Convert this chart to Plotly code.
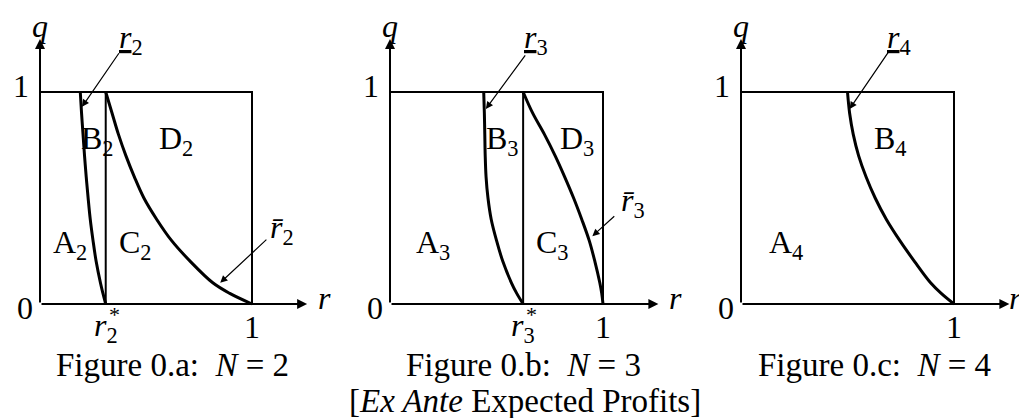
import plotly.graph_objects as go

# sampled boundary curves, q from 1 down to 0
q_grid = [1.0, 0.9, 0.8, 0.7, 0.6, 0.5, 0.4, 0.3, 0.2, 0.1, 0.05, 0.0]

r2_low = [0.19, 0.196, 0.203, 0.21, 0.218, 0.227, 0.237, 0.25, 0.265, 0.285, 0.297, 0.31]
r2_up = [0.31, 0.34, 0.37, 0.405, 0.445, 0.49, 0.55, 0.62, 0.71, 0.815, 0.895, 1.0]
r3_low = [0.44, 0.443, 0.445, 0.447, 0.451, 0.46, 0.475, 0.50, 0.53, 0.57, 0.595, 0.625]
r3_up = [0.625, 0.67, 0.725, 0.775, 0.82, 0.862, 0.90, 0.935, 0.962, 0.985, 0.994, 1.0]
r4_low = [0.50, 0.51, 0.527, 0.552, 0.587, 0.63, 0.682, 0.745, 0.815, 0.89, 0.94, 1.0]

r_star = [0.31, 0.625]
panel_n = [2, 3, 4]
captions = ["Figure 0.a:  <i>N</i> = 2", "Figure 0.b:  <i>N</i> = 3", "Figure 0.c:  <i>N</i> = 4"]
subtitle = "[<i>Ex Ante</i> Expected Profits]"

W, H = 1027, 418
FONT = "Liberation Serif"
FS = 32
CAP_FS = 33

# pixel layout of each panel: (domain left, domain right, px of r=0, px of r=1)
panels = [(0, 340, 32, 244), (340, 680, 382, 595), (680, 1027, 733, 946)]
q0_px, q1_px = 296, 84

fig = go.Figure()
layout = dict(width=W, height=H, margin=dict(l=0, r=0, t=0, b=0),
              paper_bgcolor="white", plot_bgcolor="white", showlegend=False)
ymin = (q0_px - H) / (q0_px - q1_px)
ymax = q0_px / (q0_px - q1_px)
for i, (d0, d1, p0, p1) in enumerate(panels):
    s = "" if i == 0 else str(i + 1)
    u = p1 - p0
    layout["xaxis" + s] = dict(domain=[d0 / W, d1 / W], range=[(d0 - p0) / u, (d1 - p0) / u],
                               visible=False, fixedrange=True, anchor="y" + s)
    layout["yaxis" + s] = dict(domain=[0, 1], range=[ymin, ymax], visible=False,
                               anchor="x" + s, fixedrange=True)
fig.update_layout(**layout)

ann = []


def line(xs, ys, i, w, curved=False):
    s = "" if i == 0 else str(i + 1)
    style = dict(color="black", width=w)
    if curved:
        style.update(shape="spline", smoothing=1.0)
    fig.add_trace(go.Scatter(x=xs, y=ys, mode="lines", xaxis="x" + s, yaxis="y" + s,
                             line=style, hoverinfo="skip"))


def text(t, x, y, i, size=FS, **kw):
    s = "" if i == 0 else str(i + 1)
    ann.append(dict(text=t, x=x, y=y, xref="x" + s, yref="y" + s, showarrow=False,
                    xanchor="center", yanchor="middle",
                    font=dict(family=FONT, size=size, color="black"), **kw))


def arrow(x0, y0, x1, y1, i, w=1.2, size=1.2):
    s = "" if i == 0 else str(i + 1)
    ann.append(dict(text="", x=x1, y=y1, ax=x0, ay=y0, xref="x" + s, yref="y" + s,
                    axref="x" + s, ayref="y" + s, showarrow=True, arrowhead=2,
                    arrowsize=size, arrowwidth=w, arrowcolor="black"))


over = lambda n: "<i>r\u0304</i><sub>%d</sub>" % n
under = lambda n: "<u><i>r</i></u><sub>%d</sub>" % n

for i, n in enumerate(panel_n):
    # box (top and right sides)
    line([0, 1, 1], [1, 1, 0], i, 2)
    # axes with arrowheads
    arrow(0, 0, 1.26, 0, i, w=2, size=1)
    arrow(0, 0, 0, 1.25, i, w=2, size=1)
    text("<i>q</i>", 0.0, 1.31, i)
    text("<i>r</i>", 1.34 if i < 2 else 1.29, 0.03, i)
    text("1", -0.09, 1.03, i)
    text("0", -0.07, -0.02, i)
    text("1", 1.0, -0.11, i)

# panel a
line([r_star[0], r_star[0]], [1, 0], 0, 2)
line(r2_low, q_grid, 0, 3, True)
line(r2_up, q_grid, 0, 3, True)
text("<i>r</i><sub>2</sub>", r_star[0], -0.11, 0)
text("*", r_star[0] + 0.04, -0.05, 0, size=22)
text(under(2), 0.43, 1.25, 0)
arrow(0.377, 1.19, 0.198, 0.93, 0)
text(over(2), 1.14, 0.35, 0)
arrow(1.075, 0.31, 0.85, 0.10, 0)
text("B<sub>2</sub>", 0.27, 0.77, 0)
text("D<sub>2</sub>", 0.64, 0.77, 0)
text("A<sub>2</sub>", 0.14, 0.28, 0)
text("C<sub>2</sub>", 0.45, 0.28, 0)

# panel b
line([r_star[1], r_star[1]], [1, 0], 1, 2)
line(r3_low, q_grid, 1, 3, True)
line(r3_up, q_grid, 1, 3, True)
text("<i>r</i><sub>3</sub>", r_star[1], -0.11, 1)
text("*", r_star[1] + 0.04, -0.05, 1, size=22)
text(under(3), 0.685, 1.25, 1)
arrow(0.64, 1.18, 0.45, 0.92, 1)
text(over(3), 1.14, 0.48, 1)
arrow(1.06, 0.42, 0.95, 0.32, 1)
text("B<sub>3</sub>", 0.53, 0.77, 1)
text("D<sub>3</sub>", 0.88, 0.77, 1)
text("A<sub>3</sub>", 0.20, 0.28, 1)
text("C<sub>3</sub>", 0.765, 0.28, 1)

# panel c
line(r4_low, q_grid, 2, 3, True)
text(under(4), 0.74, 1.25, 2)
arrow(0.70, 1.20, 0.51, 0.92, 2)
text("B<sub>4</sub>", 0.70, 0.77, 2)
text("A<sub>4</sub>", 0.21, 0.28, 2)

cap_x = [164, 515, 866]
for cx, c in zip(cap_x, captions):
    ann.append(dict(text=c, x=cx / W, y=1 - 357 / H, xref="paper", yref="paper",
                    xanchor="center", yanchor="middle", showarrow=False,
                    font=dict(family=FONT, size=CAP_FS, color="black")))
ann.append(dict(text=subtitle, x=517 / W, y=1 - 393 / H, xref="paper", yref="paper",
                xanchor="center", yanchor="middle", showarrow=False,
                font=dict(family=FONT, size=CAP_FS, color="black")))

fig.update_layout(annotations=ann)
fig.write_html("out.html")
